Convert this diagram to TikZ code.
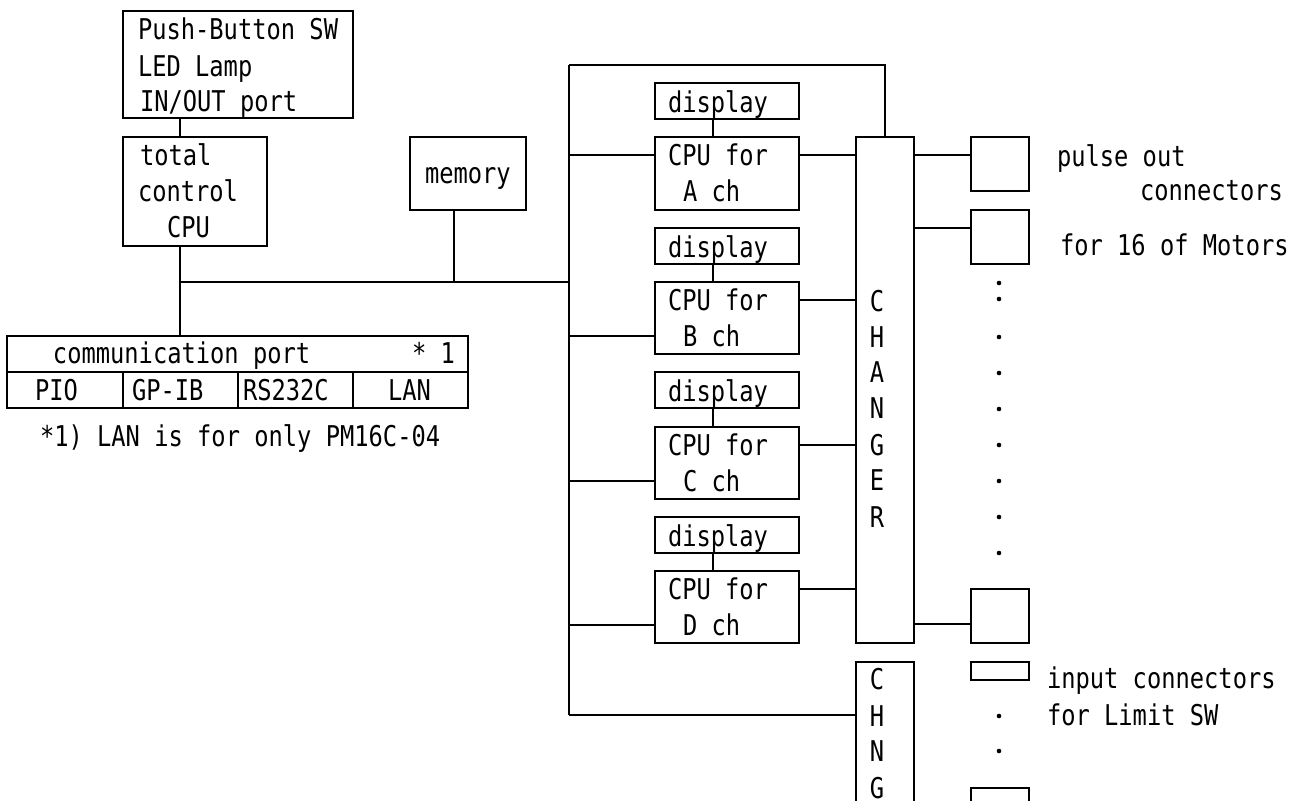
\documentclass[tikz,border=0pt]{standalone}
\usepackage{fontspec}
\newfontfamily\gfont[FakeStretch=0.83]{DejaVu Sans Mono}
\begin{document}
\begin{tikzpicture}[x=0.5pt,y=-0.5pt,line width=1pt,
  box/.style={draw,line width=1pt,inner sep=0pt,outer sep=0pt,rectangle},
  txt/.style={inner sep=0pt,outer sep=0pt,font=\gfont\fontsize{14.3pt}{14.3pt}\selectfont},
  dot/.style={circle,fill,inner sep=0pt,minimum size=2.3pt}]
\useasboundingbox (0,0) rectangle (1298,800);
\clip (0,0) rectangle (1298,800);
\newcommand\mybox[5]{\node[box,minimum width={(#4-#2)*0.5pt},minimum height={(#5-#3)*0.5pt}] (#1) at ({(#2+#4)/2},{(#3+#5)/2}) {};}
% boxes
\mybox{pb}{123}{11}{353}{118}
\mybox{tc}{123}{137}{267}{246}
\mybox{mem}{410}{137}{526}{210}
\mybox{dispA}{655}{83}{799}{119}
\mybox{cpuA}{655}{137}{799}{210}
\mybox{dispB}{655}{228}{799}{264}
\mybox{cpuB}{655}{282}{799}{354}
\mybox{dispC}{655}{372}{799}{408}
\mybox{cpuC}{655}{427}{799}{499}
\mybox{dispD}{655}{517}{799}{553}
\mybox{cpuD}{655}{571}{799}{643}
\mybox{chg}{856}{137}{914}{643}
\mybox{chng}{856}{662}{914}{840}
\mybox{conA}{971}{137}{1029}{191}
\mybox{conB}{971}{210}{1029}{264}
\mybox{conC}{971}{589}{1029}{643}
\mybox{inA}{971}{662}{1029}{680}
\mybox{inB}{971}{788}{1029}{840}
\mybox{tab}{7}{336}{468}{408}
% table inner rules
\coordinate (rowL) at (7,372);
\coordinate (c1) at (123,0);
\coordinate (c2) at (238,0);
\coordinate (c3) at (353,0);
\draw (rowL) -- (rowL -| tab.east);
\draw (c1 |- rowL) -- (c1 |- tab.south);
\draw (c2 |- rowL) -- (c2 |- tab.south);
\draw (c3 |- rowL) -- (c3 |- tab.south);
% junction coordinates
\coordinate (j1) at (180,282);
\coordinate (mj) at (454,282);
\coordinate (busMid) at (569,282);
\coordinate (busTL) at (569,65);
\coordinate (busBot) at (569,715);
\coordinate (topR) at (885,65);
\coordinate (dx) at (713,0);
% connectors left part
\draw (pb.south -| j1) -- (tc.north -| j1);
\draw (tc.south -| j1) -- (tab.north -| j1);
\draw (j1) -- (busMid);
\draw (mem.south -| mj) -- (mj);
\draw (busTL) -- (busBot);
\draw (busTL) -- (topR) -- (chg.north -| topR);
% bus to CPUs
\coordinate (aL) at ([yshift=-9pt]cpuA.north west);
\coordinate (bL) at ([yshift=9pt]cpuB.south west);
\coordinate (cL) at ([yshift=9pt]cpuC.south west);
\coordinate (dL) at ([yshift=9pt]cpuD.south west);
\draw (busTL |- aL) -- (aL);
\draw (busTL |- bL) -- (bL);
\draw (busTL |- cL) -- (cL);
\draw (busTL |- dL) -- (dL);
% displays
\draw (dispA.south -| dx) -- (cpuA.north -| dx);
\draw (dispB.south -| dx) -- (cpuB.north -| dx);
\draw (dispC.south -| dx) -- (cpuC.north -| dx);
\draw (dispD.south -| dx) -- (cpuD.north -| dx);
% CPUs to changer
\coordinate (aR) at ([yshift=-9pt]cpuA.north east);
\coordinate (bR) at ([yshift=-9pt]cpuB.north east);
\coordinate (cR) at ([yshift=-9pt]cpuC.north east);
\coordinate (dR) at ([yshift=-9pt]cpuD.north east);
\draw (aR) -- (aR -| chg.west);
\draw (bR) -- (bR -| chg.west);
\draw (cR) -- (cR -| chg.west);
\draw (dR) -- (dR -| chg.west);
\draw (busBot) -- (busBot -| chng.west);
% changer to connectors
\coordinate (kA) at ([yshift=-9pt]conA.north west);
\coordinate (kB) at ([yshift=-9pt]conB.north west);
\coordinate (kC) at ([yshift=9.5pt]conC.south west);
\draw (kA -| chg.east) -- (kA);
\draw (kB -| chg.east) -- (kB);
\draw (kC -| chg.east) -- (kC);
% texts
\node[txt,anchor=base west] (t1) at (138,39.5) {Push-Button SW};
\node[txt,anchor=base west] (t2) at (138,76) {LED Lamp};
\node[txt,anchor=base west] (t3) at (140,111.5) {IN/OUT port};
\node[txt,anchor=base west] (t4) at (140,165.5) {total};
\node[txt,anchor=base west] (t5) at (138,201.5) {control};
\node[txt,anchor=base west] (t6) at (167,237) {CPU};
\node[txt,anchor=base west] (t7) at (425,183) {memory};
\node[txt,anchor=base west] (dA) at (668,112) {display};
\node[txt,anchor=base west] (dB) at (668,257) {display};
\node[txt,anchor=base west] (dC) at (668,401) {display};
\node[txt,anchor=base west] (dD) at (668,546) {display};
\node[txt,anchor=base west] (fA) at (668,165) {CPU for};
\node[txt,anchor=base west] (fB) at (668,310) {CPU for};
\node[txt,anchor=base west] (fC) at (668,455) {CPU for};
\node[txt,anchor=base west] (fD) at (668,599) {CPU for};
\node[txt,anchor=base west] (hA) at (683,201) {A ch};
\node[txt,anchor=base west] (hB) at (683,346) {B ch};
\node[txt,anchor=base west] (hC) at (683,491) {C ch};
\node[txt,anchor=base west] (hD) at (683,635) {D ch};
\node[txt,anchor=base] (L1) at (877,311.5) {C};
\node[txt,anchor=base] (L2) at (877,347) {H};
\node[txt,anchor=base] (L3) at (877,382) {A};
\node[txt,anchor=base] (L4) at (877,418) {N};
\node[txt,anchor=base] (L5) at (877,455) {G};
\node[txt,anchor=base] (L6) at (877,490) {E};
\node[txt,anchor=base] (L7) at (877,527) {R};
\node[txt,anchor=base] (M1) at (877,689) {C};
\node[txt,anchor=base] (M2) at (877,726.5) {H};
\node[txt,anchor=base] (M3) at (877,761.5) {N};
\node[txt,anchor=base] (M4) at (877,798) {G};
\node[txt,anchor=base west] (p1) at (53,363) {communication port};
\node[txt,anchor=base west] (p2) at (412,363) {* 1};
\node[txt,anchor=base west] (p3) at (35,400.5) {PIO};
\node[txt,anchor=base west] (p4) at (132,400.5) {GP-IB};
\node[txt,anchor=base west] (p5) at (243,400.5) {RS232C};
\node[txt,anchor=base west] (p6) at (388,400.5) {LAN};
\node[txt,anchor=base west] (fn) at (40,446.5) {*1) LAN is for only PM16C-04};
\node[txt,anchor=base west] (r1) at (1057,166) {pulse out};
\node[txt,anchor=base west] (r2) at (1140,200) {connectors};
\node[txt,anchor=base west] (r3) at (1060,255) {for 16 of Motors};
\node[txt,anchor=base west] (r4) at (1047,688) {input connectors};
\node[txt,anchor=base west] (r5) at (1047,725) {for Limit SW};
% dots
\foreach \yy [count=\i] in {283,299,337,373,409,445,481,517,553,716,751}
  \node[dot] (dot\i) at (999,\yy) {};
\end{tikzpicture}
\end{document}
